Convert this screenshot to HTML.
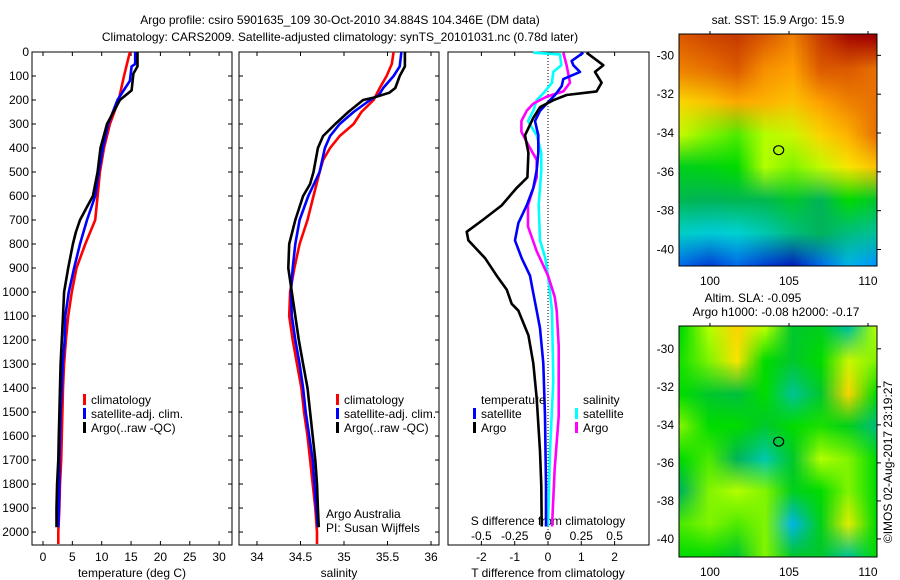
<!DOCTYPE html>
<html><head><meta charset="utf-8">
<style>
html,body{margin:0;padding:0;background:#fff;}
svg{display:block;font-family:"Liberation Sans",sans-serif;}
text{font-size:12px;fill:#000;}
</style></head>
<body>
<svg id="fig" width="900" height="580" viewBox="0 0 900 580" xmlns="http://www.w3.org/2000/svg">
<text x="340" y="24" text-anchor="middle">Argo profile: csiro 5901635_109 30-Oct-2010 34.884S 104.346E (DM data)</text>
<text x="340" y="41" text-anchor="middle">Climatology: CARS2009. Satellite-adjusted climatology: synTS_20101031.nc (0.78d later)</text>
<g id="g1"></g>
<g id="g2"></g>
<g id="g3"></g>
<g id="gm"></g>
<text transform="translate(892,462) rotate(-90)" text-anchor="middle">©IMOS 02-Aug-2017 23:19:27</text>
</svg>
<script>
// ---------- DATA ----------
const tClimDepth=[0,100,200,300,400,500,600,700,800,900,1000,1100,1200,1300,1400,1500,1600,1700,1800,1900,2000,2050];
const tClim=[14.8,13.8,12.9,11.4,10.4,9.7,9.3,8.9,7.2,5.7,4.9,4.3,3.9,3.6,3.4,3.3,3.2,3.1,2.9,2.8,2.6,2.6];
const tSatDepth=[0,50,60,120,150,200,300,400,500,600,700,800,900,1000,1100,1200,1300,1400,1500,1600,1700,1800,1900,1980];
const tSat=[15.7,15.7,15.1,14.8,14.0,12.7,11.1,10.2,9.5,8.9,7.5,6.3,5.3,4.4,3.8,3.7,3.35,3.2,3.0,2.9,2.8,2.8,2.7,2.6];
const tArgoDepth=[0,60,90,160,200,300,400,500,600,650,700,750,800,900,1000,1100,1200,1300,1400,1500,1600,1700,1800,1900,1980];
const tArgo=[16.1,16.1,15.4,15.1,13.1,10.9,9.8,9.3,8.5,7.4,6.3,5.6,5.1,4.3,3.6,3.4,3.2,3.0,2.9,2.8,2.7,2.6,2.4,2.3,2.3];

const sClimDepth=[0,50,100,150,200,250,300,350,400,450,500,600,700,800,900,1000,1100,1200,1300,1400,1500,1600,1700,1800,1900,2000,2050];
const sClim=[35.57,35.55,35.49,35.41,35.34,35.2,35.11,34.95,34.84,34.76,34.72,34.65,34.58,34.49,34.43,34.38,34.37,34.41,34.46,34.51,34.54,34.58,34.61,34.64,34.67,34.69,34.69];
const sSatDepth=[0,60,100,150,180,200,250,300,350,400,500,600,700,800,900,1000,1100,1200,1300,1400,1500,1600,1700,1800,1900,1980];
const sSat=[35.66,35.64,35.57,35.45,35.4,35.3,35.11,34.95,34.84,34.78,34.72,34.59,34.49,34.44,34.41,34.39,34.4,34.44,34.49,34.53,34.56,34.6,34.64,34.66,34.68,34.7];
const sArgoDepth=[0,60,100,150,170,190,200,250,300,350,400,500,550,600,700,800,900,1000,1100,1200,1300,1400,1500,1600,1700,1800,1900,1980];
const sArgo=[35.7,35.7,35.64,35.59,35.52,35.34,35.22,35.05,34.9,34.76,34.7,34.65,34.61,34.53,34.44,34.37,34.36,34.4,34.44,34.48,34.53,34.58,34.61,34.64,34.67,34.69,34.7,34.71];

const dTArgoDepth=[3,55,83,128,164,179,201,230,274,347,420,522,566,639,698,749,785,859,932,990,1049,1078,1180,1297,1443,1663,1809,1977];
const dTArgo=[1.16,1.66,1.41,1.61,1.46,0.56,0.16,-0.24,-0.44,-0.69,-0.59,-0.62,-0.94,-1.39,-1.94,-2.44,-2.39,-1.89,-1.54,-1.24,-1.09,-0.89,-0.59,-0.44,-0.34,-0.24,-0.2,-0.19];
const dTSatDepth=[3,37,55,83,113,142,179,201,245,288,347,420,493,566,639,712,785,859,932,1005,1078,1151,1297,1517,1809,1977];
const dTSat=[1.06,0.71,0.76,0.96,0.46,0.41,0.21,0.06,-0.24,-0.39,-0.29,-0.29,-0.34,-0.44,-0.64,-0.89,-0.99,-0.79,-0.54,-0.44,-0.34,-0.24,-0.14,-0.09,-0.06,-0.06];
const dSSatDepth=[3,10,55,83,128,172,201,245,288,347,420,493,639,785,859,932,1078,1370,1663,1977];
const dSSat=[-0.11,0.09,0.1,0.04,0.03,-0.035,-0.085,-0.11,-0.15,-0.085,-0.05,-0.05,-0.07,-0.06,-0.02,0,0.03,0.04,0.015,0];
const dSArgoDepth=[3,55,128,164,186,215,245,288,332,376,449,522,639,727,830,932,1020,1078,1224,1517,1736,1977];
const dSArgo=[0.115,0.14,0.165,0.115,-0.01,-0.11,-0.16,-0.2,-0.2,-0.16,-0.085,-0.085,-0.15,-0.15,-0.085,0,0.05,0.065,0.08,0.08,0.05,0.03];

const depthTicks=[0,100,200,300,400,500,600,700,800,900,1000,1100,1200,1300,1400,1500,1600,1700,1800,1900,2000];
const tTicks=[0,5,10,15,20,25,30];
const sTicks=[34,34.5,35,35.5,36];
const sTickLabels=["34","34.5","35","35.5","36"];
const dTTicks=[-2,-1,0,1,2];
const dSTicks=[-0.5,-0.25,0,0.25,0.5];
const dSTickLabels=["-0.5","-0.25","0","0.25","0.5"];

const sstGrid=[
[0.85,0.88,0.9,0.85,0.8,0.9,0.98,1],
[0.8,0.82,0.85,0.78,0.76,0.85,0.85,0.82],
[0.7,0.72,0.75,0.74,0.72,0.76,0.8,0.82],
[0.63,0.6,0.58,0.62,0.64,0.7,0.74,0.82],
[0.52,0.53,0.55,0.62,0.6,0.63,0.68,0.72],
[0.46,0.45,0.46,0.46,0.5,0.45,0.55,0.5],
[0.36,0.34,0.35,0.38,0.42,0.45,0.42,0.4],
[0.2,0.15,0.2,0.15,0.1,0.2,0.3,0.25]];
const slaGrid=[
[0.55,0.62,0.7,0.62,0.5,0.52,0.4,0.62],
[0.56,0.6,0.68,0.55,0.5,0.55,0.64,0.6],
[0.55,0.5,0.48,0.55,0.4,0.5,0.7,0.55],
[0.6,0.55,0.55,0.5,0.55,0.56,0.52,0.42],
[0.55,0.58,0.45,0.38,0.5,0.62,0.6,0.55],
[0.45,0.6,0.62,0.6,0.52,0.55,0.6,0.55],
[0.58,0.6,0.58,0.6,0.3,0.52,0.66,0.55],
[0.55,0.55,0.5,0.6,0.5,0.5,0.4,0.55]];
const mapXTicks=[100,105,110];
const mapYTicks=[-30,-32,-34,-36,-38,-40];
const argoLon=104.346, argoLat=-34.884;

// ---------- helpers ----------
const NS="http://www.w3.org/2000/svg";
function mk(parent,tag,attrs){const e=document.createElementNS(NS,tag);for(const k in attrs)e.setAttribute(k,attrs[k]);parent.appendChild(e);return e;}
function txt(parent,x,y,s,anchor){const e=mk(parent,'text',{x:x,y:y,'text-anchor':anchor||'start'});e.textContent=s;return e;}
const Y0=52, Y1=545, DMAX=2054;
const yD=d=>Y0+(d/DMAX)*(Y1-Y0);
function line(g,xs,ds,xf,color,name){
  const pts=xs.map((v,i)=>xf(v).toFixed(1)+','+yD(ds[i]).toFixed(1)).join(' ');
  const p=mk(g,'polyline',{points:pts,fill:'none',stroke:color,'stroke-width':2.6,'stroke-linejoin':'round'});
  
  
}
function frame(g,x0,x1,name){
  const r=mk(g,'rect',{x:x0,y:Y0,width:x1-x0,height:Y1-Y0,fill:'none',stroke:'#000','stroke-width':1});
  
  
}
function legendEntry(g,x,y,color,label){
  const r=mk(g,'rect',{x:x,y:y-10,width:3,height:11,fill:color});
  
  
  const t=txt(g,x+8,y,label);
  
  
}
function xTicks(g,vals,labels,xf,ly){
  vals.forEach((v,i)=>{const x=xf(v);
    mk(g,'line',{x1:x,y1:Y1,x2:x,y2:Y1-4,stroke:'#000'});
    mk(g,'line',{x1:x,y1:Y0,x2:x,y2:Y0+4,stroke:'#000'});
    const t=txt(g,x,ly,labels[i],'middle');
    
    
  });
}

// ---------- Panel 1: temperature ----------
const g1=document.getElementById('g1');
const P1L=32,P1R=232, xT=t=>43+t*5.87;
frame(g1,P1L,P1R,'temperature-axes');
depthTicks.forEach(d=>{const y=yD(d);
  mk(g1,'line',{x1:P1L,y1:y,x2:P1L+4,y2:y,stroke:'#000'});
  mk(g1,'line',{x1:P1R,y1:y,x2:P1R-4,y2:y,stroke:'#000'});
  const t=txt(g1,29,y+4,String(d),'end');
  
  
});
xTicks(g1,tTicks,tTicks.map(String),xT,561);
const tl=txt(g1,132,577,'temperature (deg C)','middle');


line(g1,tClim,tClimDepth,xT,'#ff0000','temp-climatology-line');
line(g1,tSat,tSatDepth,xT,'#0000ff','temp-satellite-line');
line(g1,tArgo,tArgoDepth,xT,'#000000','temp-argo-line');
legendEntry(g1,83,404,'#ff0000','climatology');
legendEntry(g1,83,418,'#0000ff','satellite-adj. clim.');
legendEntry(g1,83,432,'#000000','Argo(..raw -QC)');

// ---------- Panel 2: salinity ----------
const g2=document.getElementById('g2');
const P2L=239,P2R=439, xS=s=>257+(s-34)*87;
frame(g2,P2L,P2R,'salinity-axes');
depthTicks.forEach(d=>{const y=yD(d);
  mk(g2,'line',{x1:P2L,y1:y,x2:P2L+4,y2:y,stroke:'#000'});
  mk(g2,'line',{x1:P2R,y1:y,x2:P2R-4,y2:y,stroke:'#000'});
});
xTicks(g2,sTicks,sTickLabels,xS,561);
const sl=txt(g2,339,577,'salinity','middle');


line(g2,sClim,sClimDepth,xS,'#ff0000','sal-climatology-line');
line(g2,sSat,sSatDepth,xS,'#0000ff','sal-satellite-line');
line(g2,sArgo,sArgoDepth,xS,'#000000','sal-argo-line');
legendEntry(g2,336,404,'#ff0000','climatology');
legendEntry(g2,336,418,'#0000ff','satellite-adj. clim.');
legendEntry(g2,336,432,'#000000','Argo(..raw -QC)');
const aa=txt(g2,326,518,'Argo Australia');
const pi=txt(g2,326,532,'PI: Susan Wijffels');

// ---------- Panel 3: differences ----------
const g3=document.getElementById('g3');
const P3L=448,P3R=649, xDT=v=>548+v*33.3, xDS=v=>548+v*133.2;
frame(g3,P3L,P3R,'difference-axes');
mk(g3,'line',{x1:548,y1:Y0,x2:548,y2:Y1,stroke:'#000','stroke-dasharray':'1,2','stroke-width':1});
xTicks(g3,dTTicks,dTTicks.map(String),xDT,561);
dSTicks.forEach((v,i)=>{const t=txt(g3,xDS(v),540,dSTickLabels[i],'middle');
  
  });
const sd=txt(g3,548,525,'S difference from climatology','middle');
const td=txt(g3,548,577,'T difference from climatology','middle');
line(g3,dSSat,dSSatDepth,xDS,'#00ffff','s-diff-satellite-line');
line(g3,dSArgo,dSArgoDepth,xDS,'#ff00ff','s-diff-argo-line');
line(g3,dTSat,dTSatDepth,xDT,'#0000ff','t-diff-satellite-line');
line(g3,dTArgo,dTArgoDepth,xDT,'#000000','t-diff-argo-line');
const lt=txt(g3,481,404,'temperature');
const ls=txt(g3,583,404,'salinity');
legendEntry(g3,473,418,'#0000ff','satellite');
legendEntry(g3,473,432,'#000000','Argo');
legendEntry(g3,575,418,'#00ffff','satellite');
legendEntry(g3,575,432,'#ff00ff','Argo');

// ---------- Maps ----------
const CSTOPS=[[0,0,0,140],[0.12,0,40,200],[0.25,0,150,255],[0.35,0,210,210],[0.45,0,180,90],[0.55,0,220,0],[0.62,180,255,0],[0.68,250,230,0],[0.76,255,160,0],[0.85,220,90,0],[1,160,0,0]];
function cmap(v){v=Math.max(0,Math.min(1,v));
  for(let i=1;i<CSTOPS.length;i++){if(v<=CSTOPS[i][0]){const a=CSTOPS[i-1],b=CSTOPS[i];const f=(v-a[0])/(b[0]-a[0]);
    return [a[1]+f*(b[1]-a[1]),a[2]+f*(b[2]-a[2]),a[3]+f*(b[3]-a[3])];}}
  return [160,0,0];}
const gm=document.getElementById('gm');
const MX0=679,MX1=877, LON0=98.04, LON1=110.57;
const xLon=l=>MX0+(l-LON0)/(LON1-LON0)*(MX1-MX0);
function drawMap(grid,top,bot,LAT0,LAT1,name){
  const yLat=l=>top+(l-LAT0)/(LAT1-LAT0)*(bot-top);
  const W=MX1-MX0,H=bot-top;
  const c=document.createElement('canvas');c.width=W;c.height=H;
  const ctx=c.getContext('2d');
  const s=document.createElement('canvas');s.width=grid[0].length;s.height=grid.length;
  const sc=s.getContext('2d');const id=sc.createImageData(s.width,s.height);
  grid.forEach((row,i)=>row.forEach((v,j)=>{const k=(i*s.width+j)*4;const col=cmap(v);
    id.data[k]=col[0];id.data[k+1]=col[1];id.data[k+2]=col[2];id.data[k+3]=255;}));
  sc.putImageData(id,0,0);
  ctx.imageSmoothingEnabled=true;
  const cw=W/s.width,ch=H/s.height;
  ctx.drawImage(s,0,0,s.width,s.height,-cw/2,-ch/2,W+cw,H+ch);
  const im=mk(gm,'image',{x:MX0,y:top,width:W,height:H,preserveAspectRatio:'none'});
  im.setAttribute('href',c.toDataURL('image/png'));
  
  
  const r=mk(gm,'rect',{x:MX0,y:top,width:W,height:H,fill:'none',stroke:'#000'});
  
  
  mapYTicks.forEach(l=>{const y=yLat(l);
    mk(gm,'line',{x1:MX1,y1:y,x2:MX1+4,y2:y,stroke:'#000'});
    const t=txt(gm,674,y+4,String(l),'end');
    
    });
  mapXTicks.forEach(l=>{const x=xLon(l);
    mk(gm,'line',{x1:x,y1:top,x2:x,y2:top-3,stroke:'#000'});
    const t=txt(gm,x,bot+19,String(l),'middle');
    
    });
  const ci=mk(gm,'ellipse',{cx:xLon(argoLon),cy:yLat(argoLat),rx:5,ry:4.5,fill:'none',stroke:'#000','stroke-width':1.2});
  
  
}
drawMap(sstGrid,34,266,-28.9,-40.85,'sst-map');
drawMap(slaGrid,326,557,-28.8,-40.95,'sla-map');
const t1=txt(gm,778,24,'sat. SST: 15.9 Argo: 15.9','middle');
const t2=txt(gm,753,302,'Altim. SLA: -0.095','middle');
const t3=txt(gm,776,316,'Argo h1000: -0.08 h2000: -0.17','middle');
</script>
</body></html>
